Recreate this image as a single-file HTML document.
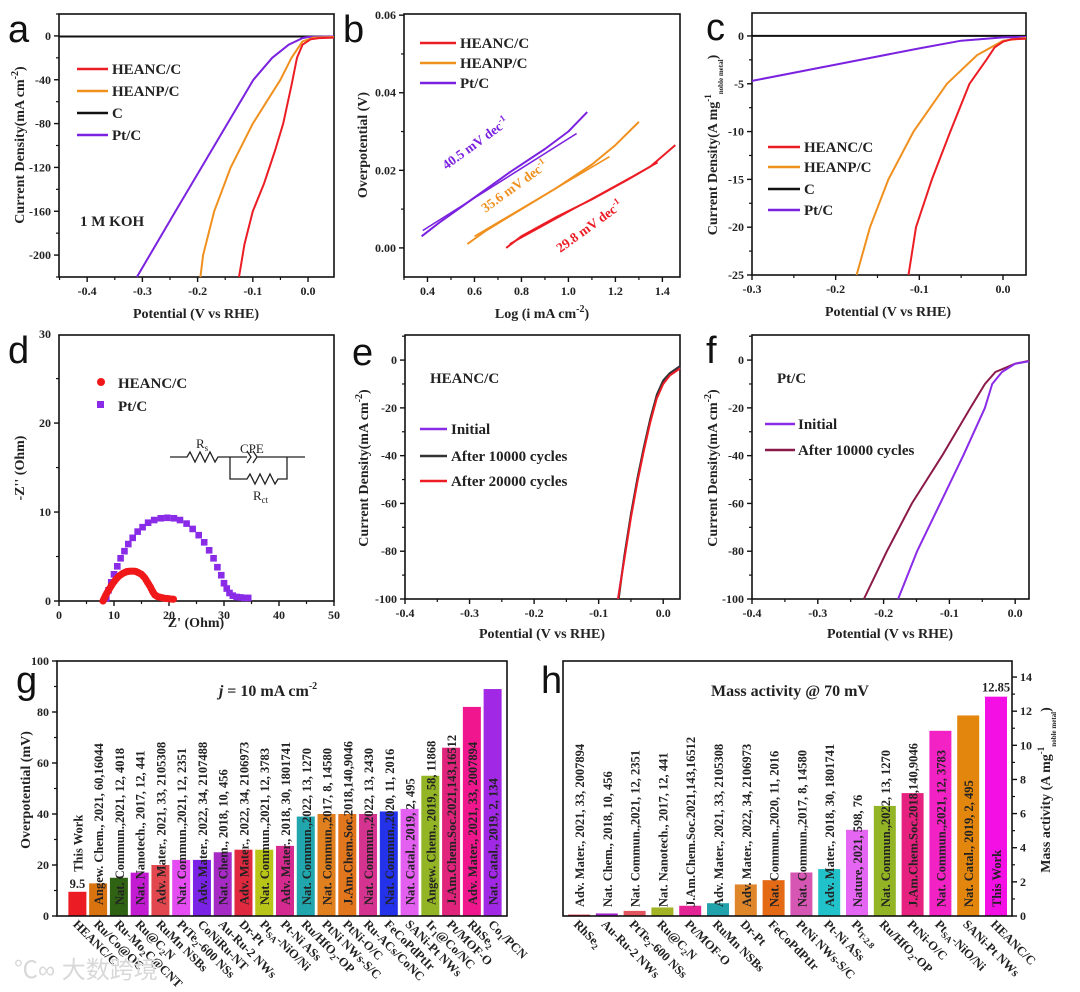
<!DOCTYPE html>
<html><head><meta charset="utf-8">
<style>
html,body{margin:0;padding:0;background:#fff;}
svg{display:block;font-family:"Liberation Serif",serif;}
.t{font-weight:bold;font-size:12px;fill:#222;}
.ax{font-weight:bold;font-size:14px;fill:#222;}
.lg{font-weight:bold;font-size:15px;fill:#222;}
.pl{font-family:"Liberation Sans",sans-serif;font-size:38px;fill:#111;}
.rf{font-weight:bold;font-size:12.5px;fill:#222;}
</style></head>
<body>
<svg id="fig" width="1080" height="992" viewBox="0 0 1080 992" xmlns="http://www.w3.org/2000/svg"></svg>
<script>
// ---------- Panel a data ----------
const aHEANC_x=[0.047,0.02,0.005,-0.01,-0.02,-0.03,-0.045,-0.06,-0.08,-0.1,-0.115,-0.125];
const aHEANC_y=[-1.5,-2,-3,-8,-20,-45,-80,-105,-135,-160,-190,-220];
const aHEANP_x=[0.047,0.01,-0.01,-0.03,-0.05,-0.075,-0.1,-0.14,-0.17,-0.19,-0.195];
const aHEANP_y=[-1,-1.5,-5,-20,-40,-60,-80,-120,-160,-200,-220];
const aC_x=[-0.451,0.047];
const aC_y=[-0.5,-0.5];
const aPt_x=[0.047,0.0,-0.01,-0.035,-0.065,-0.099,-0.146,-0.193,-0.24,-0.31];
const aPt_y=[-0.5,-1,-2,-8,-20,-40,-80,-120,-160,-220];
const aXticks=[-0.4,-0.3,-0.2,-0.1,0.0];
const aYticks=[0,-40,-80,-120,-160,-200];
// ---------- Panel b data ----------
const bPt_x=[0.375,0.45,0.6,0.75,0.9,1.0,1.08];
const bPt_y=[0.003,0.0065,0.013,0.0195,0.0255,0.03,0.035];
const bPtFit_x=[0.38,1.035];
const bPtFit_y=[0.0045,0.0295];
const bHEANP_x=[0.57,0.65,0.8,0.95,1.1,1.2,1.3];
const bHEANP_y=[0.001,0.0045,0.01,0.0155,0.0215,0.0265,0.0325];
const bHEANPFit_x=[0.6,1.175];
const bHEANPFit_y=[0.003,0.0235];
const bHEANC_x=[0.735,0.8,0.95,1.1,1.25,1.35,1.455];
const bHEANC_y=[0.0,0.003,0.008,0.0125,0.0175,0.021,0.0265];
const bHEANCFit_x=[0.75,1.38];
const bHEANCFit_y=[0.001,0.022];
const bXticks=[0.4,0.6,0.8,1.0,1.2,1.4];
const bYticks=[0.00,0.02,0.04,0.06];
// ---------- Panel c data ----------
const cHEANC_x=[0.0275,0.01,0,-0.01,-0.02,-0.04,-0.063,-0.085,-0.104,-0.113];
const cHEANC_y=[-0.3,-0.35,-0.6,-1.2,-2.5,-5,-10,-15,-20,-25];
const cHEANP_x=[0.0275,0.0,-0.031,-0.067,-0.107,-0.137,-0.159,-0.175];
const cHEANP_y=[-0.2,-0.5,-2,-5,-10,-15,-20,-25];
const cC_x=[-0.3,0.0275];
const cC_y=[0,0];
const cPt_x=[-0.3,-0.2,-0.1,-0.05,0,0.0275];
const cPt_y=[-4.7,-3.0,-1.3,-0.5,-0.15,-0.1];
const cXticks=[-0.3,-0.2,-0.1,0.0];
const cYticks=[0,-5,-10,-15,-20,-25];
// ---------- Panel d data ----------
const dHEANC_x=[8,8.15,8.3,8.5,8.7,8.95,9.2,9.45,9.7,10,10.3,10.6,10.9,11.25,11.6,11.95,12.3,12.65,13,13.35,13.7,14.05,14.4,14.7,15,15.3,15.6,15.85,16.1,16.35,16.6,16.8,17,17.2,17.4,17.65,17.9,18.2,18.5,18.85,19.2,19.6,20,20.4,20.8];
const dHEANC_y=[0,0.2,0.4,0.65,0.9,1.15,1.4,1.65,1.9,2.15,2.4,2.6,2.8,2.95,3.1,3.2,3.3,3.33,3.35,3.35,3.35,3.3,3.2,3.1,3.0,2.8,2.6,2.35,2.1,1.85,1.6,1.35,1.1,0.9,0.7,0.6,0.5,0.45,0.4,0.35,0.3,0.28,0.25,0.22,0.2];
const dPt_x=[8.6,9,9.5,10,10.6,11.2,11.9,12.6,13.4,14.3,15.2,16.2,17.3,18.5,19.7,20.9,22,23.2,24.3,25.4,26.4,27.3,28.1,28.8,29.5,30,30.5,31,31.6,32.3,33,33.7,34.4];
const dPt_y=[0.3,1.2,2.1,3.0,3.9,4.8,5.6,6.4,7.1,7.8,8.3,8.8,9.1,9.3,9.35,9.3,9.1,8.7,8.1,7.4,6.6,5.7,4.8,3.8,2.9,2.0,1.4,0.9,0.6,0.45,0.4,0.35,0.35];
const dXticks=[0,10,20,30,40,50];
const dYticks=[0,10,20,30];
// ---------- Panel e data ----------
const eInit_x=[0.026,0.01,0,-0.01,-0.02,-0.03,-0.04,-0.05,-0.06,-0.07];
const eInit_y=[-3,-6,-9,-15,-25,-37,-50,-65,-82,-100];
const e10k_x=[0.026,0.01,0,-0.01,-0.02,-0.03,-0.04,-0.05,-0.06,-0.069];
const e10k_y=[-2.5,-5.5,-8.5,-14.5,-24.5,-36.5,-49.5,-64.5,-81.5,-100];
const e20k_x=[0.026,0.01,0,-0.01,-0.02,-0.03,-0.04,-0.05,-0.06,-0.07];
const e20k_y=[-3.5,-6.5,-10,-16,-26,-38,-51,-66,-83,-100];
const eXticks=[-0.4,-0.3,-0.2,-0.1,0.0];
const eYticks=[0,-20,-40,-60,-80,-100];
// ---------- Panel f data ----------
const fInit_x=[0.021,0,-0.02,-0.035,-0.046,-0.079,-0.114,-0.149,-0.178];
const fInit_y=[-0.5,-1.5,-5,-10,-20,-40,-60,-80,-100];
const fAfter_x=[0.021,0,-0.03,-0.046,-0.068,-0.111,-0.157,-0.195,-0.23];
const fAfter_y=[-0.3,-1.5,-5,-10,-20,-40,-60,-80,-100];
const fXticks=[-0.4,-0.3,-0.2,-0.1,0.0];
const fYticks=[0,-20,-40,-60,-80,-100];
// ---------- Panel g data ----------
const gCats=["HEANC/C","Ru/Co@OC","Ru-Mo<tspan dy='3' font-size='9'>2</tspan><tspan dy='-3'>C@CNT</tspan>","Ru@C<tspan dy='3' font-size='9'>2</tspan><tspan dy='-3'>N</tspan>","RuMn NSBs","PtTe<tspan dy='3' font-size='9'>2</tspan><tspan dy='-3'>-600 NSs</tspan>","CoNiRu-NT","Au-Ru-2 NWs","Dr-Pt","Pt<tspan dy='3' font-size='9'>SA</tspan><tspan dy='-3'>-NiO/Ni</tspan>","Pt-Ni ASs","Ru/HfO<tspan dy='3' font-size='9'>2</tspan><tspan dy='-3'>-OP</tspan>","PtNi NWs-S/C","PtNi-O/C","Ru-ACs/CoNC","FeCoPdPtIr","SANi-Pt NWs","Ir<tspan dy='3' font-size='9'>1</tspan><tspan dy='-3'>@Co/NC</tspan>","Pt/MOF-O","RhSe<tspan dy='3' font-size='9'>2</tspan>","Co<tspan dy='3' font-size='9'>1</tspan><tspan dy='-3'>/PCN</tspan>"];
const gVals=[9.5,12.8,15,17,20,22,22,25,26,26,27.5,39,40,40,40,41,42,55,66,82,89];
const gRefs=["This Work","Angew. Chem., 2021, 60,16044","Nat. Commun.,2021, 12, 4018","Nat. Nanotech., 2017, 12, 441","Adv. Mater., 2021, 33, 2105308","Nat. Commun.,2021, 12, 2351","Adv. Mater., 2022, 34, 2107488","Nat. Chem., 2018, 10, 456","Adv. Mater., 2022, 34, 2106973","Nat. Commun.,2021, 12, 3783","Adv. Mater., 2018, 30, 1801741","Nat. Commun.,2022, 13, 1270","Nat. Commun.,2017, 8, 14580","J.Am.Chem.Soc.2018,140,9046","Nat. Commun.,2022, 13, 2430","Nat. Commun.,2020, 11, 2016","Nat. Catal., 2019, 2, 495","Angew. Chem., 2019, 58, 11868","J.Am.Chem.Soc.2021,143,16512","Adv. Mater., 2021, 33, 2007894","Nat. Catal., 2019, 2, 134"];
const gColors=["#ec1c24","#d9730f","#2f6212","#c21bd2","#e2474f","#e54cf2","#7a22e6","#a62bc4","#e0283f","#b9c418","#d52a8f","#21a6ad","#e0801e","#e2761c","#d4338f","#2433ea","#e25ff0","#93b424","#e0247c","#f0168e","#a128e4"];
const gYticks=[0,20,40,60,80,100];
// ---------- Panel h data ----------
const hCats=["RhSe<tspan dy='3' font-size='9'>2</tspan>","Au-Ru-2 NWs","PtTe<tspan dy='3' font-size='9'>2</tspan><tspan dy='-3'>-600 NSs</tspan>","Ru@C<tspan dy='3' font-size='9'>2</tspan><tspan dy='-3'>N</tspan>","Pt/MOF-O","RuMn NSBs","Dr-Pt","FeCoPdPtIr","PtNi NWs-S/C","Pt-Ni ASs","Pt<tspan dy='3' font-size='9'>T-2.8</tspan>","Ru/HfO<tspan dy='3' font-size='9'>2</tspan><tspan dy='-3'>-OP</tspan>","PtNi-O/C","Pt<tspan dy='3' font-size='9'>SA</tspan><tspan dy='-3'>-NiO/Ni</tspan>","SANi-Pt NWs","HEANC/C"];
const hVals=[0.08,0.15,0.3,0.5,0.6,0.75,1.85,2.1,2.55,2.75,5.05,6.45,7.2,10.85,11.75,12.85];
const hRefs=["Adv. Mater., 2021, 33, 2007894","Nat. Chem., 2018, 10, 456","Nat. Commun.,2021, 12, 2351","Nat. Nanotech., 2017, 12, 441","J.Am.Chem.Soc.2021,143,16512","Adv. Mater., 2021, 33, 2105308","Adv. Mater., 2022, 34, 2106973","Nat. Commun.,2020, 11, 2016","Nat. Commun.,2017, 8, 14580","Adv. Mater., 2018, 30, 1801741","Nature, 2021, 598, 76","Nat. Commun.,2022, 13, 1270","J.Am.Chem.Soc.2018,140,9046","Nat. Commun.,2021, 12, 3783","Nat. Catal., 2019, 2, 495","This Work"];
const hColors=["#e02030","#a224d2","#e2555f","#a2b424","#e42494","#22a2aa","#e0862a","#e46a16","#d656b4","#22c2ca","#e466f2","#93b424","#e6207e","#f222c4","#e2860e","#f410e4"];
const hYticks=[0,2,4,6,8,10,12,14];

const NS="http://www.w3.org/2000/svg";
const svg=document.getElementById('fig');
function mk(tag,attrs,parent){const e=document.createElementNS(NS,tag);for(const k in attrs)e.setAttribute(k,attrs[k]);(parent||svg).appendChild(e);return e;}
function scales(p){return {x:v=>p.l+(v-p.xd[0])/(p.xd[1]-p.xd[0])*(p.r-p.l),y:v=>p.b-(v-p.yd[0])/(p.yd[1]-p.yd[0])*(p.b-p.t)};}
function txt(x,y,html,cls,extra,name){const e=mk('text',Object.assign({x:x,y:y,class:cls},extra||{}));e.innerHTML=html;


return e;}
function frame(p,name){const r=mk('rect',{x:p.l,y:p.t,width:p.r-p.l,height:p.b-p.t,fill:'none',stroke:'#111','stroke-width':1.6});


}
function xAxis(p,s,ticks,fmt,name){
 const step=ticks[1]-ticks[0];
 const g=mk('g',{});
 
 
 for(let i=-1;i<ticks.length+1;i++){const v=ticks[0]+i*step;const x=s.x(v);if(x>=p.l-0.5&&x<=p.r+0.5){mk('line',{x1:x,x2:x,y1:p.b,y2:p.b+5,stroke:'#111','stroke-width':1.4},g);}
  const xm=s.x(v+step/2);if(xm>=p.l&&xm<=p.r)mk('line',{x1:xm,x2:xm,y1:p.b,y2:p.b+3,stroke:'#111','stroke-width':1.2},g);}
 ticks.forEach(v=>{const t=mk('text',{x:s.x(v),y:p.b+18,class:'t','text-anchor':'middle'},g);t.textContent=fmt(v);});
}
function yAxis(p,s,ticks,fmt,name,right){
 const step=ticks[1]-ticks[0];
 const g=mk('g',{});
 
 
 const X=right?p.r:p.l,d=right?1:-1;
 for(let i=-1;i<ticks.length+1;i++){const v=ticks[0]+i*step;const y=s.y(v);if(y>=p.t-0.5&&y<=p.b+0.5)mk('line',{x1:X,x2:X+d*5,y1:y,y2:y,stroke:'#111','stroke-width':1.4},g);
  const ym=s.y(v+step/2);if(ym>=p.t&&ym<=p.b)mk('line',{x1:X,x2:X+d*3,y1:ym,y2:ym,stroke:'#111','stroke-width':1.2},g);}
 ticks.forEach(v=>{const t=mk('text',{x:X+d*8,y:s.y(v)+4,class:'t','text-anchor':right?'start':'end'},g);t.textContent=fmt(v);});
}
function line(s,xs,ys,color,w,name){const d=xs.map((x,i)=>(i?'L':'M')+s.x(x).toFixed(1)+','+s.y(ys[i]).toFixed(1)).join('');
 const e=mk('path',{d:d,fill:'none',stroke:color,'stroke-width':w||2,'stroke-linejoin':'round'});
 
 
 return e;}
function legLine(x1,x2,y,color,name){const e=mk('line',{x1:x1,x2:x2,y1:y,y2:y,stroke:color,'stroke-width':2.4});
 
 }
const f1=v=>v.toFixed(1), f0=v=>String(v), f2=v=>v.toFixed(2);

// ===== Panel a =====
const pA={l:59,r:334,t:14,b:277,xd:[-0.451,0.047],yd:[-220,20]};const sA=scales(pA);
frame(pA,'panel-a-frame');xAxis(pA,sA,aXticks,f1,'panel-a-x-axis');yAxis(pA,sA,aYticks,f0,'panel-a-y-axis');
line(sA,aC_x,aC_y,'#111',2,'panel-a-c-line');
line(sA,aPt_x,aPt_y,'#7b22e0',2,'panel-a-ptc-line');
line(sA,aHEANP_x,aHEANP_y,'#f0901e',2,'panel-a-heanp-line');
line(sA,aHEANC_x,aHEANC_y,'#ec1c24',2,'panel-a-heanc-line');
[['HEANC/C','#ec1c24',69],['HEANP/C','#f0901e',91],['C','#111',113],['Pt/C','#7b22e0',135]].forEach((l,i)=>{legLine(77,108,l[2],l[1],'panel-a-legend-line-'+i);txt(112,l[2]+5,l[0],'lg',{},'panel-a-legend-entry-'+i);});
txt(80,226,'1 M KOH','lg',{},'panel-a-annotation');
txt(196,318,'Potential (V vs RHE)','ax',{'text-anchor':'middle'},'panel-a-x-title');
txt(0,0,"Current Density(mA cm<tspan dy='-6' font-size='10'>-2</tspan><tspan dy='6'>)</tspan>",'ax',{'text-anchor':'middle',transform:'translate(24,145) rotate(-90)'},'panel-a-y-title');
txt(8,42,'a','pl',{},'panel-a-label');

// ===== Panel b =====
const pB={l:404,r:680,t:14,b:277,xd:[0.3,1.475],yd:[-0.0075,0.0603]};const sB=scales(pB);
frame(pB,'panel-b-frame');xAxis(pB,sB,bXticks,f1,'panel-b-x-axis');yAxis(pB,sB,bYticks,f2,'panel-b-y-axis');
line(sB,bPt_x,bPt_y,'#7b22e0',2,'panel-b-ptc-curve');line(sB,bPtFit_x,bPtFit_y,'#7b22e0',1.6,'panel-b-ptc-fit');
line(sB,bHEANP_x,bHEANP_y,'#f0901e',2,'panel-b-heanp-curve');line(sB,bHEANPFit_x,bHEANPFit_y,'#f0901e',1.6,'panel-b-heanp-fit');
line(sB,bHEANC_x,bHEANC_y,'#ec1c24',2,'panel-b-heanc-curve');line(sB,bHEANCFit_x,bHEANCFit_y,'#ec1c24',1.6,'panel-b-heanc-fit');
[['HEANC/C','#ec1c24',43],['HEANP/C','#f0901e',63],['Pt/C','#7b22e0',83]].forEach((l,i)=>{legLine(420,456,l[2],l[1],'panel-b-legend-line-'+i);txt(460,l[2]+5,l[0],'lg',{},'panel-b-legend-entry-'+i);});
txt(0,0,"40.5 mV dec<tspan dy='-6' font-size='9'>-1</tspan>",'',{style:'font-weight:bold;font-size:13.5px',fill:'#7b22e0','text-anchor':'middle',transform:'translate(478,147) rotate(-36)'},'panel-b-ptc-slope');
txt(0,0,"35.6 mV dec<tspan dy='-6' font-size='9'>-1</tspan>",'',{style:'font-weight:bold;font-size:13.5px',fill:'#f0901e','text-anchor':'middle',transform:'translate(517,190) rotate(-36)'},'panel-b-heanp-slope');
txt(0,0,"29.8 mV dec<tspan dy='-6' font-size='9'>-1</tspan>",'',{style:'font-weight:bold;font-size:13.5px',fill:'#ec1c24','text-anchor':'middle',transform:'translate(592,230) rotate(-36)'},'panel-b-heanc-slope');
txt(542,318,"Log (i mA cm<tspan dy='-6' font-size='10'>-2</tspan><tspan dy='6'>)</tspan>",'ax',{'text-anchor':'middle'},'panel-b-x-title');
txt(0,0,'Overpotential (V)','ax',{'text-anchor':'middle',transform:'translate(367,145) rotate(-90)'},'panel-b-y-title');
txt(343,42,'b','pl',{},'panel-b-label');

// ===== Panel c =====
const pC={l:752,r:1026,t:13,b:275,xd:[-0.3,0.0275],yd:[-25,2.4]};const sC=scales(pC);
frame(pC,'panel-c-frame');xAxis(pC,sC,cXticks,f1,'panel-c-x-axis');yAxis(pC,sC,cYticks,f0,'panel-c-y-axis');
line(sC,cC_x,cC_y,'#111',2,'panel-c-c-line');
line(sC,cPt_x,cPt_y,'#7b22e0',2,'panel-c-ptc-line');
line(sC,cHEANP_x,cHEANP_y,'#f0901e',2,'panel-c-heanp-line');
line(sC,cHEANC_x,cHEANC_y,'#ec1c24',2,'panel-c-heanc-line');
[['HEANC/C','#ec1c24',147],['HEANP/C','#f0901e',167],['C','#111',189],['Pt/C','#7b22e0',210]].forEach((l,i)=>{legLine(768,800,l[2],l[1],'panel-c-legend-line-'+i);txt(804,l[2]+5,l[0],'lg',{},'panel-c-legend-entry-'+i);});
txt(888,316,'Potential (V vs RHE)','ax',{'text-anchor':'middle'},'panel-c-x-title');
txt(0,0,"Current Density(A mg<tspan dy='-6' font-size='9'>-1</tspan><tspan dy='12' font-size='7'>noble metal</tspan><tspan dy='-6'>)</tspan>",'ax',{'text-anchor':'middle',transform:'translate(717,145) rotate(-90)'},'panel-c-y-title');
txt(706,40,'c','pl',{},'panel-c-label');

// ===== Panel d =====
const pD={l:59,r:334,t:335,b:601,xd:[0,50],yd:[0,29.9]};const sD=scales(pD);
frame(pD,'panel-d-frame');xAxis(pD,sD,dXticks,f0,'panel-d-x-axis');yAxis(pD,sD,dYticks,f0,'panel-d-y-axis');
dPt_x.forEach((x,i)=>{const r=mk('rect',{x:sD.x(x)-3.3,y:sD.y(dPt_y[i])-3.3,width:6.6,height:6.6,fill:'#8a2be8'});

});
dHEANC_x.forEach((x,i)=>{const c=mk('circle',{cx:sD.x(x),cy:sD.y(dHEANC_y[i]),r:3.6,fill:'#f01818'});

});
const lc=mk('circle',{cx:101,cy:382,r:4,fill:'#f01818'});


const ls=mk('rect',{x:97,y:401,width:7,height:7,fill:'#8a2be8'});


txt(118,388,'HEANC/C','lg',{},'panel-d-legend-entry-heanc');
txt(118,411,'Pt/C','lg',{},'panel-d-legend-entry-ptc');
const circ=mk('path',{d:'M170,457 L187,457 L190,452 L195,462 L200,452 L205,462 L210,452 L215,462 L218,457 L247,457 M247,451 L251,457 L247,463 M253,451 L257,457 L253,463 M257,457 L305,457 M230,457 L230,479 L247,479 L250,474 L255,484 L260,474 L265,484 L270,474 L275,484 L278,479 L287,479 L287,457',fill:'none',stroke:'#222','stroke-width':1.3});


txt(196,448,"R<tspan dy='3' font-size='9'>s</tspan>",'',{style:'font-size:13px;fill:#222'},'circuit-rs-label');
txt(240,453,'CPE','',{style:'font-size:13px;fill:#222'},'circuit-cpe-label');
txt(253,500,"R<tspan dy='3' font-size='9'>ct</tspan>",'',{style:'font-size:13px;fill:#222'},'circuit-rct-label');
txt(196,627,"Z' (Ohm)",'ax',{'text-anchor':'middle'},'panel-d-x-title');
txt(0,0,"-Z'' (Ohm)",'ax',{'text-anchor':'middle',transform:'translate(24,468) rotate(-90)'},'panel-d-y-title');
txt(8,363,'d','pl',{},'panel-d-label');

// ===== Panel e =====
const pE={l:405,r:680,t:335,b:599,xd:[-0.4,0.026],yd:[-100,10.5]};const sE=scales(pE);
frame(pE,'panel-e-frame');xAxis(pE,sE,eXticks,f1,'panel-e-x-axis');yAxis(pE,sE,eYticks,f0,'panel-e-y-axis');
line(sE,eInit_x,eInit_y,'#8a2be8',2,'panel-e-initial-line');
line(sE,e10k_x,e10k_y,'#333',2,'panel-e-10000-line');
line(sE,e20k_x,e20k_y,'#ec1c24',2,'panel-e-20000-line');
txt(430,383,'HEANC/C','lg',{},'panel-e-sample-label');
[['Initial','#8a2be8',429],['After 10000 cycles','#333',456],['After 20000 cycles','#ec1c24',481]].forEach((l,i)=>{legLine(420,447,l[2],l[1],'panel-e-legend-line-'+i);txt(451,l[2]+5,l[0],'lg',{},'panel-e-legend-entry-'+i);});
txt(542,638,'Potential (V vs RHE)','ax',{'text-anchor':'middle'},'panel-e-x-title');
txt(0,0,"Current Density(mA cm<tspan dy='-6' font-size='10'>-2</tspan><tspan dy='6'>)</tspan>",'ax',{'text-anchor':'middle',transform:'translate(368,468) rotate(-90)'},'panel-e-y-title');
txt(352,365,'e','pl',{},'panel-e-label');

// ===== Panel f =====
const pF={l:752,r:1029,t:335,b:599,xd:[-0.4,0.021],yd:[-100,10.5]};const sF=scales(pF);
frame(pF,'panel-f-frame');xAxis(pF,sF,fXticks,f1,'panel-f-x-axis');yAxis(pF,sF,fYticks,f0,'panel-f-y-axis');
line(sF,fAfter_x,fAfter_y,'#8b1a48',2,'panel-f-after-line');
line(sF,fInit_x,fInit_y,'#8a2be8',2,'panel-f-initial-line');
txt(777,383,'Pt/C','lg',{},'panel-f-sample-label');
[['Initial','#8a2be8',424],['After 10000 cycles','#8b1a48',450]].forEach((l,i)=>{legLine(765,795,l[2],l[1],'panel-f-legend-line-'+i);txt(798,l[2]+5,l[0],'lg',{},'panel-f-legend-entry-'+i);});
txt(890,638,'Potential (V vs RHE)','ax',{'text-anchor':'middle'},'panel-f-x-title');
txt(0,0,"Current Density(mA cm<tspan dy='-6' font-size='10'>-2</tspan><tspan dy='6'>)</tspan>",'ax',{'text-anchor':'middle',transform:'translate(717,468) rotate(-90)'},'panel-f-y-title');
txt(706,363,'f','pl',{},'panel-f-label');

// ===== Panel g =====
const pG={l:57,r:507,t:661,b:916,xd:[0,gVals.length],yd:[0,100]};const sG=scales(pG);
const gPitch=(pG.r-pG.l-14)/gVals.length;
gVals.forEach((v,i)=>{const cx=pG.l+14+gPitch*(i+0.5)-4;
 const r=mk('rect',{x:cx-9,y:sG.y(v),width:18,height:pG.b-sG.y(v),fill:gColors[i]});
 
 
 const y0=i===0?sG.y(v)-20:905;
 txt(0,0,gRefs[i],'rf',{transform:'translate('+(cx+5)+','+y0+') rotate(-90)'},'panel-g-ref-'+i);
 txt(0,0,gCats[i],'rf',{transform:'translate('+(cx-5)+',925) rotate(45)'},'panel-g-category-'+i);
});
txt(pG.l+14+gPitch*0.5-4,sG.y(gVals[0])-4,String(gVals[0]),'rf',{'text-anchor':'middle'},'panel-g-value-label');
frame(pG,'panel-g-frame');yAxis(pG,sG,gYticks,f0,'panel-g-y-axis');
txt(268,696,"<tspan font-style='italic'>j</tspan> = 10 mA cm<tspan dy='-7' font-size='10'>-2</tspan>",'',{style:'font-weight:bold;font-size:16px;fill:#222','text-anchor':'middle'},'panel-g-title');
txt(0,0,'Overpotential (mV)','ax',{'text-anchor':'middle',transform:'translate(30,790) rotate(-90)'},'panel-g-y-title');
txt(16,693,'g','pl',{},'panel-g-label');

// ===== Panel h =====
const pH={l:563,r:1012,t:661,b:916,xd:[0,hVals.length],yd:[0,14.94]};const sH=scales(pH);
const hPitch=27.8;
hVals.forEach((v,i)=>{const cx=579+hPitch*i;
 const r=mk('rect',{x:cx-11,y:sH.y(v),width:22,height:pH.b-sH.y(v),fill:hColors[i]});
 
 
 txt(0,0,hRefs[i],'rf',{transform:'translate('+(cx+5)+',907) rotate(-90)',fill:i===hVals.length-1?'#5a1070':'#222'},'panel-h-ref-'+i);
 txt(0,0,hCats[i],'rf',{transform:'translate('+(cx-6)+',925) rotate(45)'},'panel-h-category-'+i);
});
txt(579+hPitch*(hVals.length-1),sH.y(hVals[hVals.length-1])-5,String(hVals[hVals.length-1]),'rf',{'text-anchor':'middle'},'panel-h-value-label');
frame(pH,'panel-h-frame');yAxis(pH,sH,hYticks,f0,'panel-h-y-axis',true);
txt(790,696,'Mass activity @ 70 mV','',{style:'font-weight:bold;font-size:16px;fill:#222','text-anchor':'middle'},'panel-h-title');
txt(0,0,"Mass activity (A mg<tspan dy='-6' font-size='9'>-1</tspan><tspan dy='12' font-size='7'>noble metal</tspan><tspan dy='-6'>)</tspan>",'ax',{'text-anchor':'middle',transform:'translate(1050,790) rotate(-90)'},'panel-h-y-title');
txt(541,693,'h','pl',{},'panel-h-label');

// watermark
txt(14,978,'℃∞ 大数跨境','',{style:'font-family:"Liberation Sans","Noto Sans CJK SC",sans-serif;font-size:24px;fill:#d8d8d8'},'watermark');
</script>
</body></html>
